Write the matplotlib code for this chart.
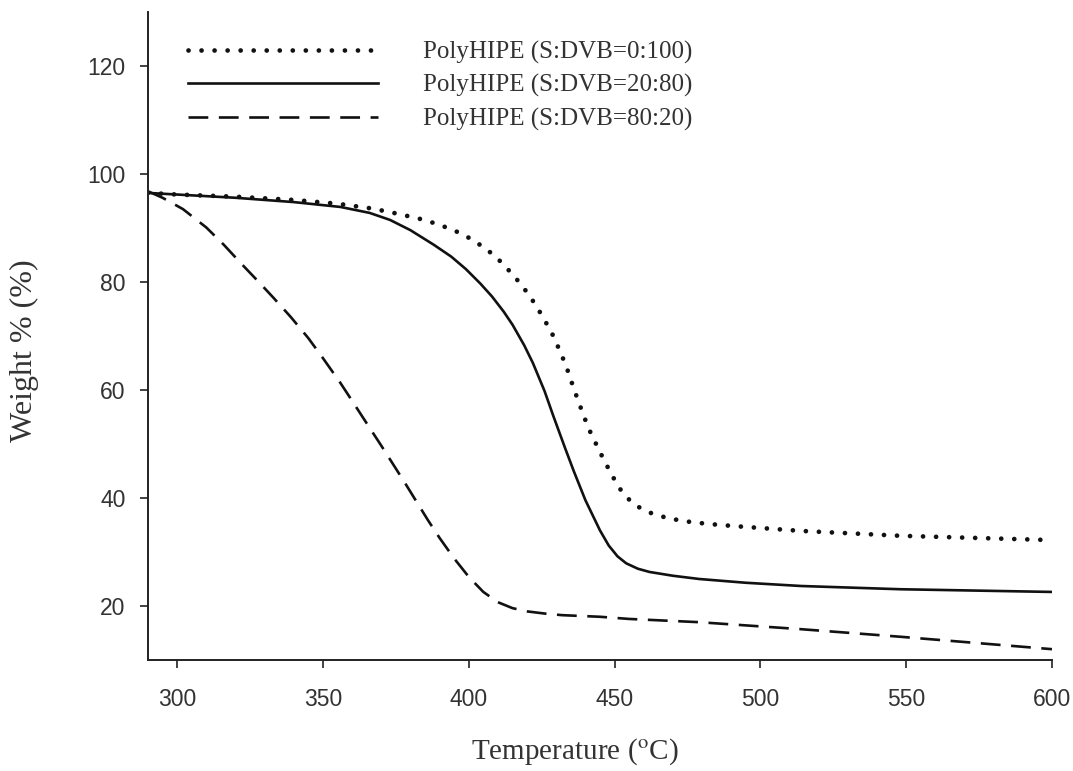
import matplotlib
matplotlib.use('Agg')
from matplotlib import pyplot as plt

plt.rcParams['mathtext.fontset'] = 'stix'

# TGA 曲线数据: 温度 (°C) / 剩余重量 (%)
temp_0_100 = [290, 300, 320, 340, 355, 367, 376, 384, 390, 396, 400, 405, 409, 412,
              416, 419, 422, 424, 427, 429, 432, 434, 436, 438, 441, 445, 449, 452,
              455, 458, 462, 468, 474, 482, 491, 514, 548, 600]
weight_0_100 = [96.5, 96.2, 95.8, 95.2, 94.5, 93.6, 92.6, 91.6, 90.6, 89.3, 88.2,
                86.5, 84.8, 83.2, 80.8, 78.8, 76.5, 74.8, 72.0, 70.0, 66.3, 63.5,
                60.3, 57.3, 53.0, 48.5, 44.3, 41.6, 39.7, 38.4, 37.3, 36.3, 35.7,
                35.2, 34.8, 33.9, 33.0, 32.2]

temp_20_80 = [290, 300, 320, 340, 356, 366, 373, 380, 388, 394, 399, 404, 408, 412,
              415, 419, 422, 426, 429, 433, 436, 440, 445, 448, 451, 454, 458, 462,
              470, 479, 495, 514, 548, 600]
weight_20_80 = [96.5, 96.2, 95.6, 94.8, 93.9, 92.8, 91.5, 89.6, 86.9, 84.7, 82.4,
                79.7, 77.3, 74.5, 72.1, 68.3, 65.0, 59.8, 55.2, 49.3, 45.0, 39.6,
                34.0, 31.2, 29.2, 27.9, 26.9, 26.3, 25.6, 25.0, 24.3, 23.7, 23.1, 22.6]

temp_80_20 = [290, 295, 302, 310, 316, 322, 328, 333, 339, 345, 350, 356, 360, 363,
              366, 370, 374, 378, 382, 386, 390, 395, 400, 405, 410, 415, 420, 426,
              432, 445, 455, 479, 514, 548, 600]
weight_80_20 = [96.8, 95.6, 93.5, 90.1, 86.9, 83.4, 80.0, 77.1, 73.5, 69.6, 65.9,
                61.3, 58.0, 55.5, 53.0, 49.7, 46.3, 42.9, 39.4, 35.9, 32.6, 28.8,
                25.4, 22.6, 20.7, 19.6, 19.0, 18.6, 18.3, 18.0, 17.6, 17.0, 15.7,
                14.3, 12.0]

labels = ['PolyHIPE (S:DVB=0:100)', 'PolyHIPE (S:DVB=20:80)', 'PolyHIPE (S:DVB=80:20)']
x_ticks = [300, 350, 400, 450, 500, 550, 600]
y_ticks = [20, 40, 60, 80, 100, 120]

fig = plt.figure(figsize=(10.73, 7.71), dpi=100)
ax = fig.add_axes([0.1379, 0.144, 0.8425, 0.8404])

line_color = '#111111'
# 点线 / 实线 / 虚线
ax.plot(temp_0_100, weight_0_100, color=line_color, linewidth=3.4,
        linestyle=(0, (0.01, 2.75)), dash_capstyle='round', label=labels[0])
ax.plot(temp_20_80, weight_20_80, color=line_color, linewidth=1.9, label=labels[1])
ax.plot(temp_80_20, weight_80_20, color=line_color, linewidth=1.9,
        linestyle=(0, (7.5, 4)), label=labels[2])

ax.set_xlim(290, 600)
ax.set_ylim(10, 130)
ax.set_xticks(x_ticks)
ax.set_yticks(y_ticks)

# 只保留左边和下边的坐标轴
ax.spines['top'].set_visible(False)
ax.spines['right'].set_visible(False)
for s in ['left', 'bottom']:
    ax.spines[s].set_linewidth(1.4)
    ax.spines[s].set_color('#222222')

ax.tick_params(direction='out', length=6, width=1.2, color='#222222',
               labelsize=16.5, labelcolor='#333333')
ax.tick_params(axis='x', pad=14)
ax.tick_params(axis='y', pad=10)
for t in ax.get_xticklabels() + ax.get_yticklabels():
    t.set_family('Liberation Sans')

ax.set_xlabel(r'Temperature ($^{\mathrm{o}}$C)', fontsize=21, family='Liberation Serif',
              color='#333333')
ax.set_ylabel('Weight % (%)', fontsize=23, family='Liberation Serif',
              color='#333333')
ax.xaxis.set_label_coords(0.472, -0.118)
ax.yaxis.set_label_coords(-0.12, 0.478)

leg = ax.legend(loc='upper left', bbox_to_anchor=(0.030, 0.975), frameon=False,
                handlelength=7.6, handletextpad=1.8, labelspacing=0.42, borderpad=0,
                prop={'family': 'Liberation Serif', 'size': 18})
for t in leg.get_texts():
    t.set_color('#333333')

plt.savefig('out.png', dpi=100)
